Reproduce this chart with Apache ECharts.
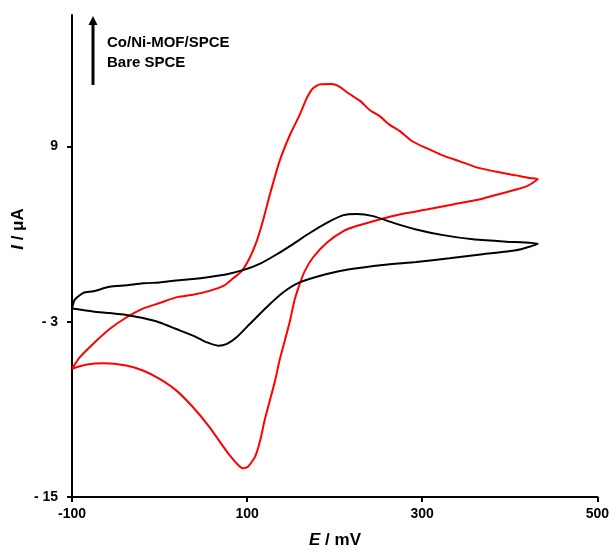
<!DOCTYPE html>
<html>
<head>
<meta charset="utf-8">
<script src="https://cdn.jsdelivr.net/npm/echarts@6/dist/echarts.min.js"></script>
<style>
  html, body { margin: 0; padding: 0; background: #fff; }
  #cvChart { width: 612px; height: 550px; }
</style>
</head>
<body>
<div id="cvChart"></div>
<script>
// Co/Ni-MOF/SPCE (red) - potential (mV) and current (uA)
var redE = [-100, -91, -76, -57, -38, -19, 0, 21, 38, 57, 73, 84, 94, 103, 111, 118, 126, 137, 149, 160, 168, 175, 183, 196, 204, 217, 229, 240, 251, 263, 274, 289, 305, 324, 343, 362, 388, 407, 422, 432,
            426, 419, 403, 365, 335, 305, 274, 251, 225, 210, 191, 175, 166, 160, 154, 149, 143, 137, 132, 126, 120, 115, 109, 101, 95, 88, 80, 73, 57, 38, 19, 0, -19, -38, -64, -83, -100];
var redI = [-6.22, -5.43, -4.52, -3.50, -2.71, -2.10, -1.72, -1.30, -1.16, -0.89, -0.55, -0.03, 0.48, 1.38, 2.52, 3.89, 5.71, 7.98, 9.80, 11.16, 12.29, 12.97, 13.25, 13.27, 13.14, 12.59, 12.12, 11.50, 11.09, 10.48, 10.07, 9.34, 8.88, 8.37, 7.98, 7.57, 7.23, 7.02, 6.84, 6.77,
            6.50, 6.27, 5.98, 5.37, 5.03, 4.68, 4.34, 4.00, 3.55, 3.20, 2.41, 1.38, 0.48, -0.43, -1.57, -2.93, -4.30, -5.66, -7.02, -8.39, -9.75, -11.11, -12.25, -12.93, -13.04, -12.70, -12.14, -11.57, -10.21, -8.84, -7.70, -6.91, -6.34, -6.00, -5.84, -5.93, -6.22];

// Bare SPCE (black)
var blackE = [-100, -97, -87, -76, -57, -38, -19, 0, 19, 38, 57, 77, 95, 115, 134, 152, 172, 191, 210, 225, 244, 267, 293, 324, 358, 396, 432,
              407, 369, 331, 293, 255, 217, 191, 160, 141, 122, 103, 88, 77, 67, 54, 46, 38, 19, 0, -19, -38, -57, -76, -100];
var blackI = [-2.10, -1.50, -1.02, -0.92, -0.61, -0.51, -0.37, -0.31, -0.17, -0.07, 0.07, 0.25, 0.53, 0.98, 1.62, 2.30, 3.09, 3.77, 4.30, 4.38, 4.23, 3.77, 3.32, 2.93, 2.64, 2.48, 2.34,
              1.89, 1.62, 1.34, 1.09, 0.89, 0.59, 0.27, -0.31, -1.00, -2.02, -3.16, -4.07, -4.52, -4.64, -4.41, -4.18, -3.95, -3.50, -3.05, -2.75, -2.54, -2.41, -2.30, -2.10];

var xTicks = [-100, 100, 300, 500];
var yTicks = [-15, -3, 9];
var legendNames = ['Co/Ni-MOF/SPCE', 'Bare SPCE'];

function zip(xs, ys) {
  var out = [];
  for (var i = 0; i < xs.length; i++) out.push([xs[i], ys[i]]);
  return out;
}

var myChart = echarts.init(document.getElementById('cvChart'));
var font = '"Liberation Sans", Arial, sans-serif';

myChart.setOption({
  animation: false,
  grid: { left: 72, right: 14, top: 15, bottom: 53 },
  xAxis: {
    type: 'value',
    min: -100,
    max: 500,
    splitLine: { show: false },
    axisLine: { onZero: false, lineStyle: { color: '#000', width: 2 } },
    axisTick: { customValues: xTicks, length: 5, lineStyle: { color: '#000', width: 2 } },
    axisLabel: {
      customValues: xTicks,
      margin: 10,
      color: '#000',
      fontFamily: font,
      fontWeight: 'bold',
      fontSize: 14
    }
  },
  yAxis: {
    type: 'value',
    min: -15,
    max: 18,
    splitLine: { show: false },
    axisLine: { onZero: false, lineStyle: { color: '#000', width: 2 } },
    axisTick: { customValues: yTicks, length: 5, lineStyle: { color: '#000', width: 2 } },
    axisLabel: {
      customValues: yTicks,
      margin: 14,
      color: '#000',
      fontFamily: font,
      fontWeight: 'bold',
      fontSize: 14,
      formatter: function (v) { return v < 0 ? '- ' + (-v) : String(v); }
    }
  },
  series: [
    {
      name: legendNames[0],
      type: 'line',
      data: zip(redE, redI),
      showSymbol: false,
      smooth: 0.2,
      lineStyle: { color: '#ff0000', width: 2 }
    },
    {
      name: legendNames[1],
      type: 'line',
      data: zip(blackE, blackI),
      showSymbol: false,
      smooth: 0.2,
      lineStyle: { color: '#000', width: 2 }
    }
  ],
  graphic: [
    // arrow + legend text (top left)
    { type: 'line', shape: { x1: 93, y1: 85, x2: 93, y2: 24 }, style: { stroke: '#000', lineWidth: 3 } },
    { type: 'polygon', shape: { points: [[93, 16], [88.5, 25], [97.5, 25]] }, style: { fill: '#000' } },
    { type: 'text', left: 107, top: 35, style: { text: legendNames[0], font: 'bold 15px ' + font, fill: '#000' } },
    { type: 'text', left: 107, top: 55, style: { text: legendNames[1], font: 'bold 15px ' + font, fill: '#000' } },
    // axis titles
    {
      type: 'text', x: 335, y: 540,
      style: {
        text: '{i|E} / mV', align: 'center', verticalAlign: 'middle', fill: '#000',
        font: 'bold 17px ' + font,
        rich: { i: { fontStyle: 'italic', fontWeight: 'bold', fontSize: 17, fontFamily: font } }
      }
    },
    {
      type: 'text', x: 18, y: 229, rotation: Math.PI / 2,
      style: {
        text: '{i|I} / μA', align: 'center', verticalAlign: 'middle', fill: '#000',
        font: 'bold 17px ' + font,
        rich: { i: { fontStyle: 'italic', fontWeight: 'bold', fontSize: 17, fontFamily: font } }
      }
    }
  ]
});

window.addEventListener('resize', function () {
  myChart.resize();
});
</script>
</body>
</html>
